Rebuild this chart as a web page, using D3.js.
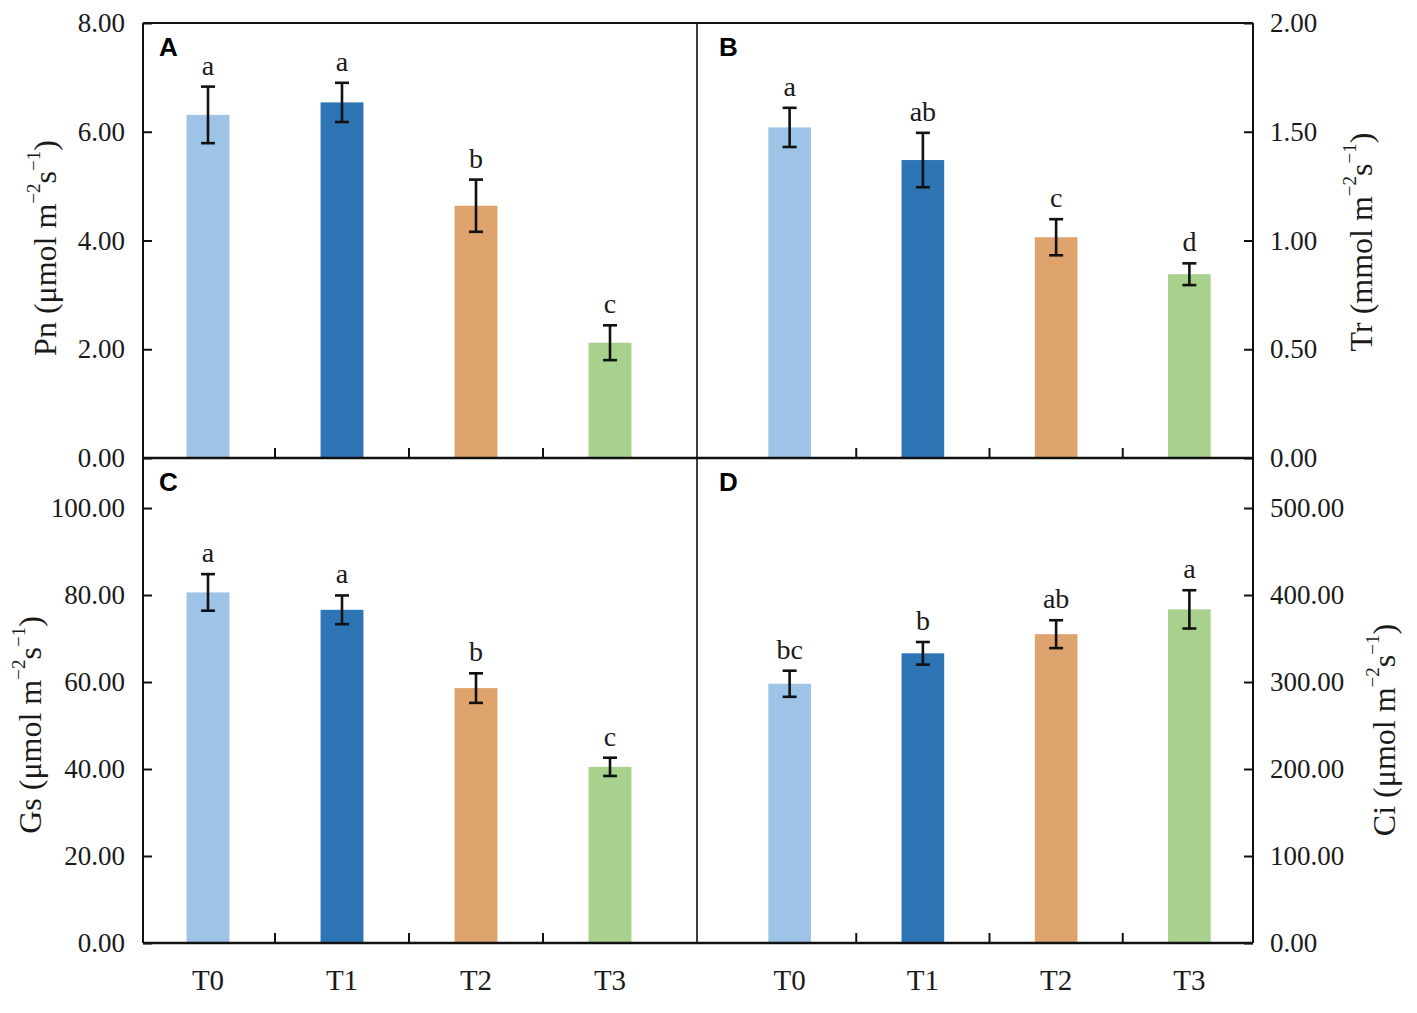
<!DOCTYPE html>
<html>
<head>
<meta charset="utf-8">
<script src="https://cdn.jsdelivr.net/npm/d3@7"></script>
<style>
  body { margin: 0; background: #fff; }
  svg { display: block; }
  text { font-family: "Liberation Serif", "Times New Roman", serif; fill: #1a1a1a; }
</style>
</head>
<body>
<div id="chart"></div>
<script>
// treatments and bar colours
const categories = ["T0", "T1", "T2", "T3"];
const barColors = ["#9dc3e6", "#2e75b6", "#dfa46e", "#a9d18e"];

// A - net photosynthetic rate
const pnValues = [6.31, 6.54, 4.64, 2.12];
const pnErrors = [0.52, 0.36, 0.48, 0.32];
const pnLetters = ["a", "a", "b", "c"];
const pnTicks = [0, 2, 4, 6, 8];

// B - transpiration rate
const trValues = [1.52, 1.37, 1.015, 0.845];
const trErrors = [0.09, 0.125, 0.083, 0.05];
const trLetters = ["a", "ab", "c", "d"];
const trTicks = [0, 0.5, 1, 1.5, 2];

// C - stomatal conductance
const gsValues = [80.6, 76.6, 58.6, 40.5];
const gsErrors = [4.2, 3.3, 3.4, 2.1];
const gsLetters = ["a", "a", "b", "c"];
const gsTicks = [0, 20, 40, 60, 80, 100];

// D - intercellular CO2
const ciValues = [298, 333, 355, 383.5];
const ciErrors = [15, 13, 16, 22];
const ciLetters = ["bc", "b", "ab", "a"];
const ciTicks = [0, 100, 200, 300, 400, 500];

const width = 1417, height = 1013;
// frame of the 2x2 grid
const L = 143, MID = 697, R = 1253, TOP = 23, MIDY = 458, BOT = 943;

const svg = d3.select("#chart").append("svg")
    .attr("width", width)
    .attr("height", height);

const panels = [
    {id: "A", values: pnValues, errors: pnErrors, letters: pnLetters, ticks: pnTicks,
     yDomain: [0, 8], yRange: [MIDY, TOP], xRange: [141, 677], side: "left", axisX: L, bottom: false},
    {id: "B", values: trValues, errors: trErrors, letters: trLetters, ticks: trTicks,
     yDomain: [0, 2], yRange: [MIDY, TOP], xRange: [723, 1256], side: "right", axisX: R, bottom: false},
    {id: "C", values: gsValues, errors: gsErrors, letters: gsLetters, ticks: gsTicks,
     yDomain: [0, 111.5], yRange: [BOT, MIDY], xRange: [141, 677], side: "left", axisX: L, bottom: true},
    {id: "D", values: ciValues, errors: ciErrors, letters: ciLetters, ticks: ciTicks,
     yDomain: [0, 557.5], yRange: [BOT, MIDY], xRange: [723, 1256], side: "right", axisX: R, bottom: true}
];

const drawPanel = (p) => {
    const x = d3.scaleBand().domain(categories).range(p.xRange);
    const y = d3.scaleLinear().domain(p.yDomain).range(p.yRange);
    const barW = x.bandwidth() * 0.32;
    const rows = p.values.map((v, i) => ({cat: categories[i], v: v, e: p.errors[i], letter: p.letters[i], color: barColors[i]}));

    const g = svg.append("g");

    g.selectAll("rect.bar")
        .data(rows)
        .join("rect")
            .attr("class", "bar")
            .attr("x", d => x(d.cat) + (x.bandwidth() - barW) / 2)
            .attr("y", d => y(d.v))
            .attr("width", barW)
            .attr("height", d => y(0) - y(d.v))
            .attr("fill", d => d.color);

    // error bars
    const err = g.selectAll("g.err")
        .data(rows)
        .join("g")
            .attr("class", "err")
            .attr("transform", d => `translate(${x(d.cat) + x.bandwidth() / 2},0)`)
            .attr("stroke", "#111")
            .attr("stroke-width", 2.6);
    err.append("line")
        .attr("y1", d => y(d.v + d.e))
        .attr("y2", d => y(d.v - d.e));
    err.append("line")
        .attr("x1", -7).attr("x2", 7)
        .attr("y1", d => y(d.v + d.e)).attr("y2", d => y(d.v + d.e));
    err.append("line")
        .attr("x1", -7).attr("x2", 7)
        .attr("y1", d => y(d.v - d.e)).attr("y2", d => y(d.v - d.e));

    // significance letters
    g.selectAll("text.letter")
        .data(rows)
        .join("text")
            .attr("class", "letter")
            .attr("x", d => x(d.cat) + x.bandwidth() / 2)
            .attr("y", d => y(d.v + d.e) - 12)
            .attr("text-anchor", "middle")
            .style("font-size", "28px")
            .text(d => d.letter);

    // x ticks between groups, pointing up
    g.selectAll("line.xtick")
        .data(categories.slice(1))
        .join("line")
            .attr("class", "xtick")
            .attr("x1", d => x(d)).attr("x2", d => x(d))
            .attr("y1", p.yRange[0]).attr("y2", p.yRange[0] - 10)
            .attr("stroke", "#111")
            .attr("stroke-width", 2);

    if (p.bottom) {
        g.selectAll("text.xlab")
            .data(categories)
            .join("text")
                .attr("class", "xlab")
                .attr("x", d => x(d) + x.bandwidth() / 2)
                .attr("y", 990)
                .attr("text-anchor", "middle")
                .style("font-size", "29px")
                .text(d => d);
    }

    // y axis, ticks inward
    const axis = (p.side === "left" ? d3.axisLeft(y) : d3.axisRight(y))
        .tickValues(p.ticks)
        .tickFormat(d3.format(".2f"))
        .tickSizeInner(-9)
        .tickSizeOuter(0)
        .tickPadding(p.side === "left" ? 18 : 17);

    const ax = g.append("g")
        .attr("transform", `translate(${p.axisX},0)`)
        .call(axis);
    ax.select(".domain").remove();
    ax.selectAll(".tick line").attr("stroke", "#111").attr("stroke-width", 2);
    ax.selectAll(".tick text")
        .attr("fill", "#1a1a1a")
        .style("font-family", '"Liberation Serif", "Times New Roman", serif')
        .style("font-size", "27px");

    // panel letter
    svg.append("text")
        .attr("x", p.side === "left" ? L + 16 : MID + 22)
        .attr("y", p.yRange[1] + 33)
        .style("font-family", '"Liberation Sans", Arial, sans-serif')
        .style("font-weight", "bold")
        .style("font-size", "26px")
        .style("fill", "#000")
        .text(p.id);
};

panels.forEach(drawPanel);

// frame lines
const frame = svg.append("g").attr("stroke", "#111").attr("fill", "none");
frame.append("line").attr("x1", L).attr("x2", R).attr("y1", TOP).attr("y2", TOP).attr("stroke-width", 2);
frame.append("line").attr("x1", L).attr("x2", R).attr("y1", MIDY).attr("y2", MIDY).attr("stroke-width", 2.4);
frame.append("line").attr("x1", L).attr("x2", R).attr("y1", BOT).attr("y2", BOT).attr("stroke-width", 2.6);
frame.append("line").attr("x1", L).attr("x2", L).attr("y1", TOP).attr("y2", BOT).attr("stroke-width", 2);
frame.append("line").attr("x1", MID).attr("x2", MID).attr("y1", TOP).attr("y2", BOT).attr("stroke-width", 1.6);
frame.append("line").attr("x1", R).attr("x2", R).attr("y1", TOP).attr("y2", BOT).attr("stroke-width", 2);

// axis titles with superscript units
const titles = [
    {name: "Pn", unit: "μmol", x: 45, y: 248},
    {name: "Tr", unit: "mmol", x: 1361, y: 242},
    {name: "Gs", unit: "μmol", x: 30, y: 725},
    {name: "Ci", unit: "μmol", x: 1384, y: 730}
];

titles.forEach(t => {
    const txt = svg.append("text")
        .attr("transform", `translate(${t.x},${t.y}) rotate(-90)`)
        .attr("text-anchor", "middle")
        .attr("dominant-baseline", "central")
        .style("font-size", "32px");
    txt.append("tspan").text(`${t.name} (${t.unit} m`);
    txt.append("tspan").attr("dy", -12).style("font-size", "19px").text("−2");
    txt.append("tspan").attr("dy", 12).text("s");
    txt.append("tspan").attr("dy", -12).style("font-size", "19px").text("−1");
    txt.append("tspan").attr("dy", 12).text(")");
});
</script>
</body>
</html>
